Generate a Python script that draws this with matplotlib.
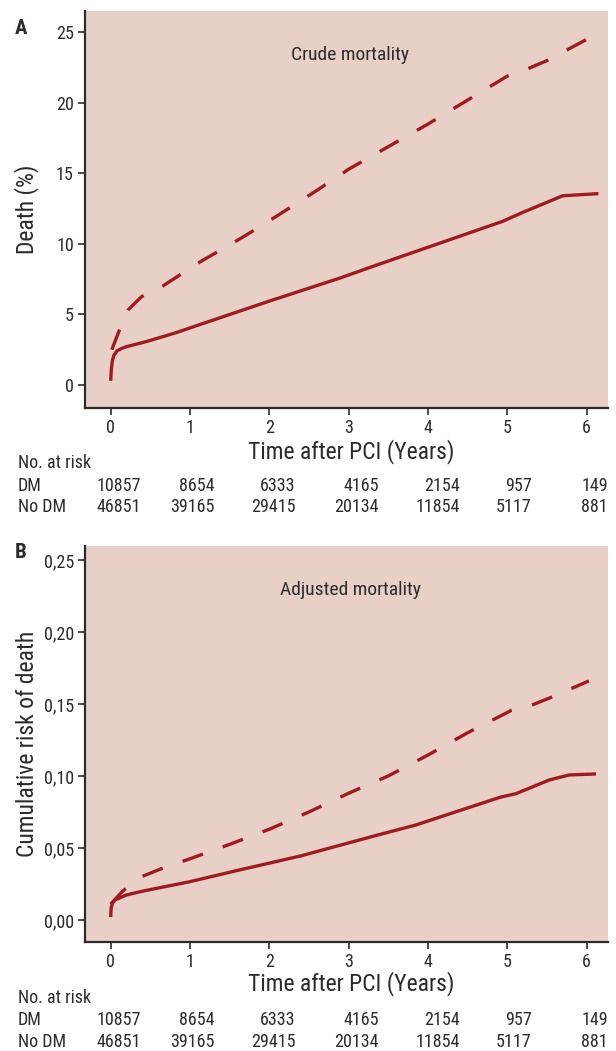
import matplotlib
matplotlib.use("Agg")
import matplotlib.pyplot as plt
from matplotlib import font_manager as fm
from matplotlib.ticker import FuncFormatter

# ---- data ----
# Panel A: crude mortality (%)
a_nodm_t = [0.0, 0.008, 0.02, 0.04, 0.08, 0.14, 0.2, 0.45, 0.83, 1.0, 1.5, 2.0, 2.9, 3.3, 4.15, 4.94, 5.2, 5.70, 6.15]
a_nodm_v = [0.3, 1.1, 1.7, 2.1, 2.42, 2.6, 2.72, 3.08, 3.72, 4.05, 5.0, 5.95, 7.6, 8.4, 10.06, 11.6, 12.25, 13.42, 13.57]
a_dm_t = [0.014, 0.11, 0.22, 0.39, 0.66, 1.1, 1.7, 2.1, 2.6, 3.0, 3.5, 4.0, 4.5, 5.0, 5.25, 5.5, 6.0]
a_dm_v = [2.5, 3.9, 5.33, 6.27, 7.03, 8.64, 10.6, 12.0, 13.8, 15.3, 16.9, 18.5, 20.2, 21.9, 22.4, 23.0, 24.5]

# Panel B: adjusted cumulative risk of death
b_nodm_t = [0.0, 0.005, 0.02, 0.054, 0.2, 0.41, 1.0, 1.59, 2.39, 3.14, 3.3, 3.85, 4.91, 5.11, 5.53, 5.78, 6.12]
b_nodm_v = [0.002, 0.008, 0.0115, 0.0139, 0.0174, 0.0201, 0.0266, 0.0343, 0.0444, 0.0556, 0.058, 0.066, 0.0852, 0.0877, 0.0972, 0.1007, 0.1014]
b_dm_t = [0.0, 0.15, 0.37, 0.62, 1.0, 1.5, 2.0, 2.5, 3.0, 3.5, 4.0, 4.5, 4.8, 5.05, 5.3, 5.55, 6.03]
b_dm_v = [0.011, 0.020, 0.0296, 0.0352, 0.0425, 0.0525, 0.063, 0.075, 0.088, 0.100, 0.1145, 0.130, 0.1384, 0.1455, 0.149, 0.1545, 0.166]

# numbers at risk
risk_dm = ['10857', '8654', '6333', '4165', '2154', '957', '149']
risk_nodm = ['46851', '39165', '29415', '20134', '11854', '5117', '881']

x_ticks = [0, 1, 2, 3, 4, 5, 6]
a_yticks = [0, 5, 10, 15, 20, 25]
b_yticks = [0.0, 0.05, 0.10, 0.15, 0.20, 0.25]


# ---- pick a condensed font if one is installed ----
def find_font(keys, bold=False):
    for key in keys:
        for f in fm.fontManager.ttflist:
            name = f.fname.lower().replace(' ', '').replace('-', '').replace('_', '')
            if key in name and ('bold' in name) == bold and 'italic' not in name and 'oblique' not in name:
                return fm.FontProperties(fname=f.fname)
    return None


cond_keys = ['liberationsansnarrowregular', 'liberationsansnarrow', 'robotocondensedregular',
             'robotocondensed', 'opensanscondensedregular', 'opensanscondensed',
             'dejavusanscondensed.ttf', 'dejavusanscondensed']
fp_reg = find_font(cond_keys) or fm.FontProperties(family='DejaVu Sans')
fp_bold = find_font(['robotocondensedbold', 'liberationsansnarrowbold', 'liberationsansbold',
                     'dejavusansbold'], bold=True) or \
    fm.FontProperties(family='DejaVu Sans', weight='bold')


def fp(size):
    f = fp_reg.copy()
    f.set_size(size)
    return f


# ---- styling ----
W, H = 616, 1051
red = '#A11A22'
bg = '#E9D0C7'
ink = '#2b2b2b'
lw = 2.4
plt.rcParams['lines.scale_dashes'] = False
dash = (15.6, 15.1)

fig = plt.figure(figsize=(W / 100, H / 100), dpi=100)


def fy(ypx):
    return 1 - ypx / H


def fx(xpx):
    return xpx / W


def style_axes(ax):
    ax.set_facecolor(bg)
    for s in ['top', 'right']:
        ax.spines[s].set_visible(False)
    for s in ['left', 'bottom']:
        ax.spines[s].set_color(ink)
        ax.spines[s].set_linewidth(1.6)
    ax.tick_params(colors=ink, labelcolor=ink, length=5, width=1.2, pad=3)
    ax.set_xlim(-0.324, 6.271)
    ax.set_xticks(x_ticks)


# risk table columns (right edges, in x data units)
risk_x = [0.38, 1.31, 2.33, 3.38, 4.40, 5.31, 6.27]

panels = [
    dict(pos=[fx(85), fy(408), fx(523), 397 / H], ylim=(-1.63, 26.52), yticks=a_yticks,
         fmt=lambda v, p: f'{v:.0f}', ylabel='Death (%)', title='Crude mortality',
         letter='A', letter_y=28, label_y=452, rows_y=(463, 486, 507),
         curves=(a_nodm_t, a_nodm_v, a_dm_t, a_dm_v)),
    dict(pos=[fx(85), fy(942), fx(523), 396 / H], ylim=(-0.0153, 0.2597), yticks=b_yticks,
         fmt=lambda v, p: f'{v:.2f}'.replace('.', ','), ylabel='Cumulative risk of death',
         title='Adjusted mortality', letter='B', letter_y=553, label_y=984,
         rows_y=(998, 1020, 1042), curves=(b_nodm_t, b_nodm_v, b_dm_t, b_dm_v)),
]

for p in panels:
    ax = fig.add_axes(p['pos'])
    style_axes(ax)
    ax.set_ylim(*p['ylim'])
    ax.set_yticks(p['yticks'])
    ax.yaxis.set_major_formatter(FuncFormatter(p['fmt']))
    for lab in ax.get_xticklabels() + ax.get_yticklabels():
        lab.set_fontproperties(fp(13))

    t1, v1, t2, v2 = p['curves']
    ax.plot(t1, v1, color=red, lw=lw, solid_capstyle='butt', solid_joinstyle='round')
    ax.plot(t2, v2, color=red, lw=lw, linestyle=(0, dash), dash_capstyle='butt')

    ax.text(0.507, 0.889, p['title'], transform=ax.transAxes, ha='center', va='center',
            fontproperties=fp(14), color=ink)
    ax.set_ylabel(p['ylabel'], fontproperties=fp(17), color=ink)
    ax.yaxis.set_label_coords(-0.088, 0.5)

    fb = fp_bold.copy()
    fb.set_size(15)
    fig.text(fx(15), fy(p['letter_y']), p['letter'], fontproperties=fb,
             color=ink, ha='left', va='center')
    fig.text(fx(351), fy(p['label_y']), 'Time after PCI (Years)',
             fontproperties=fp(17), color=ink, ha='center', va='center')

    r0, r1, r2 = p['rows_y']
    fig.text(fx(18), fy(r0), 'No. at risk', fontproperties=fp(13), color=ink, ha='left', va='center')
    fig.text(fx(18), fy(r1), 'DM', fontproperties=fp(13), color=ink, ha='left', va='center')
    fig.text(fx(18), fy(r2), 'No DM', fontproperties=fp(13), color=ink, ha='left', va='center')
    trans = matplotlib.transforms.blended_transform_factory(ax.transData, fig.transFigure)
    for xr, a, b in zip(risk_x, risk_dm, risk_nodm):
        ax.text(xr, fy(r1), a, transform=trans, fontproperties=fp(13), color=ink,
                ha='right', va='center', clip_on=False)
        ax.text(xr, fy(r2), b, transform=trans, fontproperties=fp(13), color=ink,
                ha='right', va='center', clip_on=False)

fig.savefig('out.png', dpi=100, facecolor='white')
